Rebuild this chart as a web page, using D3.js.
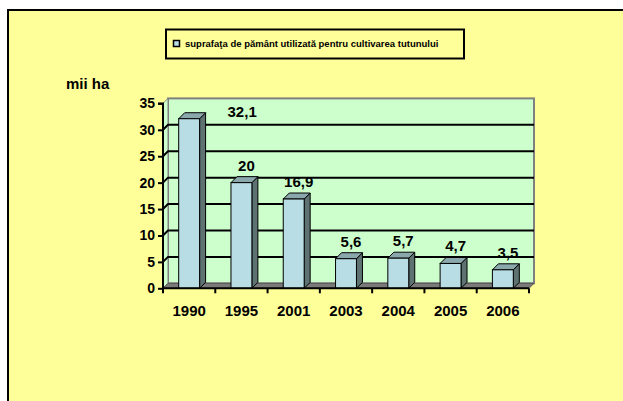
<!DOCTYPE html>
<html>
<head>
<meta charset="utf-8">
<script src="https://cdn.jsdelivr.net/npm/d3@7"></script>
<style>
  html, body { margin: 0; padding: 0; background: #ffffff; }
  svg { display: block; }
  text { font-family: "Liberation Sans", Arial, sans-serif; font-weight: bold; fill: #000; }
</style>
</head>
<body>
<script>
// ---- data ----
const categories = ["1990", "1995", "2001", "2003", "2004", "2005", "2006"];
const values = [32.1, 20, 16.9, 5.6, 5.7, 4.7, 3.5];
const valueLabels = ["32,1", "20", "16,9", "5,6", "5,7", "4,7", "3,5"];
const yTicks = [0, 5, 10, 15, 20, 25, 30, 35];
const seriesName = "suprafaţa de pământ utilizată pentru cultivarea tutunului";
const unitLabel = "mii ha";

// ---- layout ----
const W = 623, H = 401;
const plot = { left: 163, right: 529, top: 103.4, bottom: 288.3 };
const wall = { dx: 5, dy: -5 };
const bar3d = { dx: 6, dy: -6 };

const svg = d3.select("body").append("svg").attr("width", W).attr("height", H);

// chart area background + frame
svg.append("rect").attr("x", 8).attr("y", 10).attr("width", W + 20).attr("height", H + 20)
  .attr("fill", "#FFFF99").attr("stroke", "#000").attr("stroke-width", 2);

const x = d3.scaleBand().domain(categories).range([plot.left, plot.right]).padding(0);
const y = d3.scaleLinear().domain([0, 35]).range([plot.bottom, plot.top]);
const barW = x.bandwidth() * 0.4;

// back wall
const g = svg.append("g");
g.append("rect")
  .attr("x", plot.left + wall.dx).attr("y", y(35) + wall.dy)
  .attr("width", plot.right - plot.left).attr("height", y(0) - y(35))
  .attr("fill", "#CCFFCC").attr("stroke", "#808080").attr("stroke-width", 2);
// side wall
g.append("path")
  .attr("d", `M${plot.left},${y(0)} L${plot.left},${y(35)} L${plot.left + wall.dx},${y(35) + wall.dy} L${plot.left + wall.dx},${y(0) + wall.dy} Z`)
  .attr("fill", "#CCFFCC").attr("stroke", "#808080").attr("stroke-width", 1);

// gridlines (on side wall + back wall)
g.selectAll("path.grid").data(yTicks.filter(d => d > 0 && d < 35)).enter().append("path")
  .attr("class", "grid")
  .attr("d", d => `M${plot.left},${y(d)} L${plot.left + wall.dx},${y(d) + wall.dy} L${plot.right + wall.dx},${y(d) + wall.dy}`)
  .attr("fill", "none").attr("stroke", "#000").attr("stroke-width", 2);

// floor
g.append("path")
  .attr("d", `M${plot.left},${y(0)} L${plot.right},${y(0)} L${plot.right + wall.dx},${y(0) + wall.dy} L${plot.left + wall.dx},${y(0) + wall.dy} Z`)
  .attr("fill", "#7a7a7a").attr("stroke", "#555").attr("stroke-width", 1);

// bars
const bars = g.selectAll("g.bar").data(categories.map((c, i) => ({ c, v: values[i], lab: valueLabels[i] })))
  .enter().append("g").attr("class", "bar");
const bx = d => x(d.c) + (x.bandwidth() - barW) / 2;
bars.append("path") // side
  .attr("d", d => {
    const x1 = bx(d) + barW;
    return `M${x1},${y(d.v)} L${x1 + bar3d.dx},${y(d.v) + bar3d.dy} L${x1 + bar3d.dx},${y(0) + bar3d.dy} L${x1},${y(0)} Z`;
  })
  .attr("fill", "#5E7272").attr("stroke", "#000").attr("stroke-width", 1);
bars.append("path") // top
  .attr("d", d => {
    const x0 = bx(d), x1 = bx(d) + barW, yy = y(d.v);
    return `M${x0},${yy} L${x0 + bar3d.dx},${yy + bar3d.dy} L${x1 + bar3d.dx},${yy + bar3d.dy} L${x1},${yy} Z`;
  })
  .attr("fill", "#8AA7AC").attr("stroke", "#000").attr("stroke-width", 1);
bars.append("rect") // front
  .attr("x", d => bx(d)).attr("y", d => y(d.v))
  .attr("width", barW).attr("height", d => y(0) - y(d.v))
  .attr("fill", "#B8DDE4").attr("stroke", "#000").attr("stroke-width", 1);

// value labels
const fitsAbove = d => y(d.v) - 26 >= y(35) + wall.dy;
bars.append("text")
  .attr("text-anchor", "middle")
  .style("font-size", "15px")
  .attr("x", d => {
    const cx = x(d.c) + x.bandwidth() / 2 + 5;
    return fitsAbove(d) ? cx : cx + 48;
  })
  .attr("y", d => fitsAbove(d) ? y(d.v) - 12 : y(d.v) - 2)
  .text(d => d.lab);

// y axis
const yAxis = d3.axisLeft(y).tickValues(yTicks).tickSize(5).tickPadding(3);
const ya = svg.append("g").attr("transform", `translate(${plot.left},0)`).call(yAxis);
ya.select(".domain").attr("stroke", "#000").attr("stroke-width", 2).attr("d", `M-5,${y(35)}H0V${y(0)}`);
ya.selectAll(".tick line").attr("stroke", "#000").attr("stroke-width", 2);
ya.selectAll(".tick text").style("font-size", "14px").attr("font-family", null).attr("fill", "#000");

// x axis
const xa = svg.append("g").attr("transform", `translate(0,${plot.bottom})`);
xa.append("line").attr("x1", plot.left).attr("x2", plot.right).attr("y1", 0).attr("y2", 0)
  .attr("stroke", "#000").attr("stroke-width", 2);
const boundaries = categories.map(c => x(c)).concat([plot.right]);
xa.selectAll("line.tk").data(boundaries).enter().append("line").attr("class", "tk")
  .attr("x1", d => d).attr("x2", d => d).attr("y1", 0).attr("y2", 5)
  .attr("stroke", "#000").attr("stroke-width", 2);
xa.selectAll("text").data(categories).enter().append("text")
  .attr("x", d => x(d) + x.bandwidth() / 2).attr("y", 28)
  .attr("text-anchor", "middle").style("font-size", "15px")
  .text(d => d);

// unit label
svg.append("text").attr("x", 66).attr("y", 89).style("font-size", "15px").text(unitLabel);

// legend
const lg = svg.append("g");
lg.append("rect").attr("x", 166).attr("y", 29.5).attr("width", 298).attr("height", 29)
  .attr("fill", "#FFFF99").attr("stroke", "#000").attr("stroke-width", 2);
lg.append("rect").attr("x", 173.5).attr("y", 40.5).attr("width", 6).attr("height", 6)
  .attr("fill", "#B8DDE4").attr("stroke", "#000").attr("stroke-width", 1.5);
lg.append("text").attr("x", 185).attr("y", 47).style("font-size", "9.5px").text(seriesName);
</script>
</body>
</html>
